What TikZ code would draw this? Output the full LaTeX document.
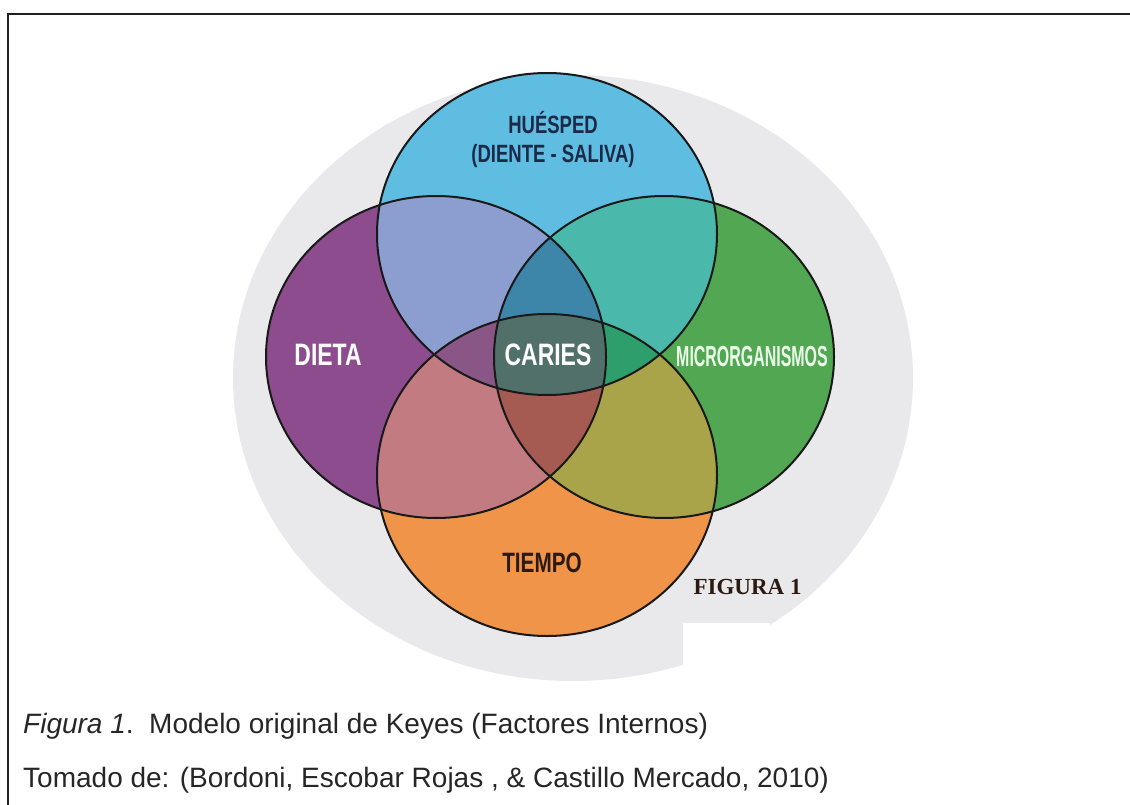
\documentclass[tikz,border=0pt]{standalone}
\usepackage{fontspec}
\setmainfont{Liberation Sans}
\newfontfamily\vennfont[FakeStretch=0.74]{Liberation Sans}
\newfontfamily\narrowfont[FakeStretch=0.55]{Liberation Sans}
\newfontfamily\figfont{Liberation Serif}
\usetikzlibrary{positioning}

\definecolor{bgGray}{HTML}{E9E9EB}
\definecolor{cB}{HTML}{5FBDE2}
\definecolor{cP}{HTML}{8C4C8E}
\definecolor{cG}{HTML}{52A852}
\definecolor{cO}{HTML}{EF9448}
\definecolor{cBP}{HTML}{8C9ED0}
\definecolor{cBG}{HTML}{4AB8AA}
\definecolor{cBO}{HTML}{52706A}
\definecolor{cPG}{HTML}{A65B52}
\definecolor{cPO}{HTML}{C27B80}
\definecolor{cGO}{HTML}{A9A449}
\definecolor{cBPG}{HTML}{3D85A9}
\definecolor{cBPO}{HTML}{8A5686}
\definecolor{cBGO}{HTML}{2E9F6C}
\definecolor{cPGO}{HTML}{A65B52}
\definecolor{cAll}{HTML}{52706A}
\definecolor{navyText}{HTML}{1B2A48}
\definecolor{brownText}{HTML}{2A1A12}
\definecolor{frameGray}{HTML}{231F20}

\def\rx{170pt}
\def\ry{161pt}

\begin{document}
\begin{tikzpicture}[
  x=1pt, y=-1pt,
  outline/.style={draw=black!90, line width=2pt},
  frame/.style={draw=frameGray, line width=2pt},
  darklabel/.style={font=\vennfont\bfseries\fontsize{25}{29}\selectfont, text=navyText, align=center},
  lightlabel/.style={font=\vennfont\bfseries\fontsize{31}{34}\selectfont, text=white},
  caption/.style={font=\fontsize{28}{32}\selectfont, text=black!85, anchor=base west, inner sep=0pt},
]
\useasboundingbox (0,0) rectangle (1130,805);

% Frame
\draw[frame] (8,805) -- (8,14) -- (1130,14);

% Background disc
\coordinate (bg) at (573,378);
\fill[bgGray] (bg) ellipse [x radius=340pt, y radius=303pt];
\fill[white] (683,623) rectangle (770,667);

% Circle centres
\coordinate (hue) at (547,234);
\coordinate (die) at (436,357);
\coordinate (mic) at (664,357);
\coordinate (tie) at (547,475);

% Single sets
\fill[cB] (hue) ellipse [x radius=\rx, y radius=\ry];
\fill[cP] (die) ellipse [x radius=\rx, y radius=\ry];
\fill[cG] (mic) ellipse [x radius=\rx, y radius=\ry];
\fill[cO] (tie) ellipse [x radius=\rx, y radius=\ry];

% Pairs
\foreach \a/\b/\col in {hue/die/cBP, hue/mic/cBG, hue/tie/cBO, die/mic/cPG, die/tie/cPO, mic/tie/cGO}{
  \begin{scope}
    \clip (\a) ellipse [x radius=\rx, y radius=\ry];
    \fill[\col] (\b) ellipse [x radius=\rx, y radius=\ry];
  \end{scope}
}

% Triples
\foreach \a/\b/\c/\col in {hue/die/mic/cBPG, hue/die/tie/cBPO, hue/mic/tie/cBGO, die/mic/tie/cPGO}{
  \begin{scope}
    \clip (\a) ellipse [x radius=\rx, y radius=\ry];
    \clip (\b) ellipse [x radius=\rx, y radius=\ry];
    \fill[\col] (\c) ellipse [x radius=\rx, y radius=\ry];
  \end{scope}
}

% All four
\begin{scope}
  \clip (hue) ellipse [x radius=\rx, y radius=\ry];
  \clip (die) ellipse [x radius=\rx, y radius=\ry];
  \clip (mic) ellipse [x radius=\rx, y radius=\ry];
  \fill[cAll] (tie) ellipse [x radius=\rx, y radius=\ry];
\end{scope}

% Outlines
\foreach \c in {hue,die,mic,tie}
  \draw[outline] (\c) ellipse [x radius=\rx, y radius=\ry];

% Labels
\node[darklabel] (huesped) at (553,140) {HUÉSPED\\(DIENTE - SALIVA)};
\node[lightlabel] (dieta) at (328,355) {DIETA};
\node[lightlabel] (caries) at (548,355) {CARIES};
\node[lightlabel, font=\narrowfont\bfseries\fontsize{29}{32}\selectfont, text=green!8] (micro) at (752,357) {MICRORGANISMOS};
\node[darklabel, font=\vennfont\bfseries\fontsize{28}{32}\selectfont, text=brownText] (tiempo) at (542,563) {TIEMPO};
\node[anchor=west, font=\figfont\bfseries\fontsize{23}{26}\selectfont, text=brownText] (figura) at (690,587) {FIGURA 1};

% Caption
\node[caption] (cap1) at (23,733) {\textit{Figura 1}.\ \ Modelo original de Keyes (Factores Internos)};
\node[caption] (cap2) at (23,787) {Tomado de: (Bordoni, Escobar Rojas , \& Castillo Mercado, 2010)};

\end{tikzpicture}
\end{document}
